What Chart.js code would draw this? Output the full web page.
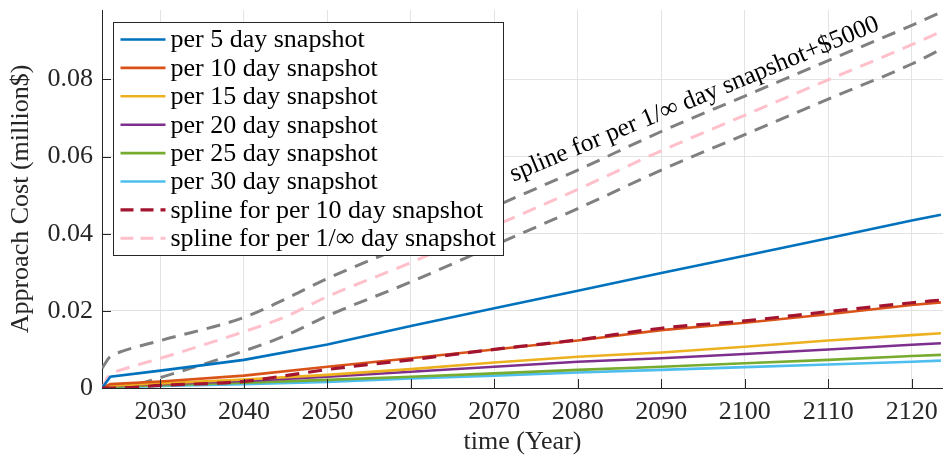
<!DOCTYPE html>
<html lang="en">
<head>
<meta charset="UTF-8">
<title>Approach Cost</title>
<script src="https://cdn.jsdelivr.net/npm/chart.js"></script>
<style>
  html, body { margin: 0; padding: 0; background: #fff; }
  .chart-box { width: 943px; height: 464px; position: relative; }
</style>
</head>
<body>
<div class="chart-box"><canvas id="costChart"></canvas></div>
<script>
const years = [2023, 2024, 2030, 2040, 2050, 2060, 2070, 2080, 2090, 2100, 2110, 2120, 2123.5];
const per5  = [0, 0.0029, 0.0045, 0.0073, 0.0113, 0.0161, 0.0207, 0.0252, 0.0298, 0.0343, 0.0388, 0.0434, 0.0449];
const per10 = [0, 0.0010, 0.0017, 0.0032, 0.0055, 0.0077, 0.0100, 0.0123, 0.0150, 0.0169, 0.0191, 0.0215, 0.0222];
const per15 = [0, 0.0006, 0.0012, 0.0022, 0.0034, 0.0049, 0.0066, 0.0081, 0.0092, 0.0107, 0.0123, 0.0137, 0.0142];
const per20 = [0, 0.0005, 0.0010, 0.0018, 0.0029, 0.0042, 0.0055, 0.0068, 0.0077, 0.0088, 0.0100, 0.0112, 0.0116];
const per25 = [0, 0.0003, 0.0007, 0.0014, 0.0021, 0.0029, 0.0038, 0.0047, 0.0055, 0.0064, 0.0073, 0.0083, 0.0086];
const per30 = [0, 0.0002, 0.0005, 0.0010, 0.0016, 0.0025, 0.0032, 0.0040, 0.0047, 0.0054, 0.0061, 0.0068, 0.0071];

// spline curves
const splineYears = [2023, 2024, 2025, 2030, 2040, 2045, 2050, 2060, 2070, 2080, 2090, 2100, 2110, 2120, 2123.5];
const spline10  = [0, 0, 0, 0.0007, 0.0017, 0.0032, 0.0048, 0.0073, 0.0100, 0.0125, 0.0155, 0.0174, 0.0198, 0.0221, 0.0228];
const splineInf = [0, 0.0037, 0.0045, 0.0077, 0.0146, 0.0185, 0.0237, 0.0325, 0.0420, 0.0515, 0.0615, 0.0707, 0.0799, 0.0890, 0.0924];
const bandUpper = [0.0051, 0.0082, 0.0092, 0.0123, 0.0183, 0.0231, 0.0284, 0.0375, 0.0470, 0.0565, 0.0665, 0.0757, 0.0849, 0.0940, 0.0974];
const bandLower = [-0.0049, -0.0013, -0.0005, 0.0027, 0.0096, 0.0136, 0.0187, 0.0275, 0.0370, 0.0465, 0.0565, 0.0657, 0.0749, 0.0840, 0.0878];

const xTicks = [2030, 2040, 2050, 2060, 2070, 2080, 2090, 2100, 2110, 2120];
const yTicks = [0, 0.02, 0.04, 0.06, 0.08];

const serif = "'Liberation Serif', 'DejaVu Serif', serif";
const ink = '#262626';

function pts(xs, ys) {
    return xs.map((x, i) => ({ x: x, y: ys[i] }));
}

function solid(label, color, ys) {
    return { label: label, data: pts(years, ys), borderColor: color, borderWidth: 2.6,
             tension: 0, inLegend: true };
}

function dashed(label, color, xs, ys, width, legend) {
    return { label: label, data: pts(xs, ys), borderColor: color, borderWidth: width,
             borderDash: [14, 9], cubicInterpolationMode: 'monotone', inLegend: legend };
}

const datasets = [
    solid('per 5 day snapshot', '#0072BD', per5),
    solid('per 10 day snapshot', '#D95319', per10),
    solid('per 15 day snapshot', '#EDB120', per15),
    solid('per 20 day snapshot', '#7E2F8E', per20),
    solid('per 25 day snapshot', '#77AC30', per25),
    solid('per 30 day snapshot', '#4DBEEE', per30),
    Object.assign(dashed('spline for per 10 day snapshot', '#A2142F', splineYears, spline10, 3.2, true), { order: -1 }),
    dashed('spline for per 1/\u221E day snapshot', '#FFC0CB', splineYears, splineInf, 3, true),
    dashed('upper band', '#808080', splineYears, bandUpper, 3, false),
    dashed('lower band', '#808080', splineYears, bandLower, 3, false)
];

// inward tick marks, matlab style
const tickMarks = {
    id: 'tickMarks',
    afterDraw(chart) {
        const { ctx, chartArea, scales } = chart;
        ctx.save();
        ctx.strokeStyle = ink;
        ctx.lineWidth = 1;
        ctx.beginPath();
        xTicks.forEach(v => {
            const px = Math.round(scales.x.getPixelForValue(v)) + 0.5;
            ctx.moveTo(px, chartArea.bottom);
            ctx.lineTo(px, chartArea.bottom - 9);
        });
        yTicks.forEach(v => {
            const py = Math.round(scales.y.getPixelForValue(v)) + 0.5;
            ctx.moveTo(chartArea.left, py);
            ctx.lineTo(chartArea.left + 9, py);
        });
        ctx.stroke();
        ctx.restore();
    }
};

// boxed legend in the upper left + rotated label along the band
const boxLegend = {
    id: 'boxLegend',
    afterDatasetsDraw(chart) {
        const { ctx, chartArea, scales } = chart;
        const x0 = Math.round(chartArea.left + 11) + 0.5;
        const y0 = Math.round(chartArea.top + 12) + 0.5;
        const w = 390, h = 233, rowH = 28.4;
        const items = chart.data.datasets.filter(d => d.inLegend);

        ctx.save();
        ctx.fillStyle = '#fff';
        ctx.fillRect(x0, y0, w, h);
        ctx.strokeStyle = ink;
        ctx.lineWidth = 1;
        ctx.strokeRect(x0, y0, w, h);

        ctx.font = '26px ' + serif;
        ctx.textBaseline = 'middle';
        ctx.fillStyle = '#000';
        items.forEach((d, i) => {
            const cy = y0 + 17 + i * rowH;
            ctx.strokeStyle = d.borderColor;
            ctx.lineWidth = d.borderWidth;
            ctx.setLineDash(d.borderDash ? [13, 7] : []);
            ctx.beginPath();
            ctx.moveTo(x0 + 7, cy);
            ctx.lineTo(x0 + 52, cy);
            ctx.stroke();
            ctx.setLineDash([]);
            ctx.fillText(d.label, x0 + 57, cy + 1);
        });

        // label for the +$5000 band
        const ax = scales.x.getPixelForValue(2072.3);
        const ay = scales.y.getPixelForValue(0.0535);
        ctx.translate(ax, ay);
        ctx.rotate(-22.5 * Math.PI / 180);
        ctx.textBaseline = 'alphabetic';
        ctx.font = '25.5px ' + serif;
        ctx.fillText('spline for per 1/\u221E day snapshot+$5000', 0, 0);
        ctx.restore();
    }
};

const ctx = document.getElementById('costChart').getContext('2d');
new Chart(ctx, {
    type: 'line',
    data: { datasets: datasets },
    plugins: [tickMarks, boxLegend],
    options: {
        responsive: true,
        maintainAspectRatio: false,
        animation: false,
        devicePixelRatio: 1,
        layout: { padding: { top: 10, right: 0, left: 0, bottom: 0 } },
        elements: {
            point: { radius: 0 },
            line: { tension: 0.4, borderCapStyle: 'butt' }
        },
        plugins: {
            legend: { display: false },
            tooltip: { enabled: false }
        },
        scales: {
            x: {
                type: 'linear',
                min: 2023,
                max: 2123.75,
                afterBuildTicks: s => { s.ticks = xTicks.map(v => ({ value: v })); },
                afterFit: s => { s.height = 76; s.paddingLeft = 0; s.paddingRight = 0; },
                grid: { color: '#e3e3e3', drawTicks: false },
                border: { color: ink, width: 1 },
                ticks: {
                    padding: 9,
                    color: ink,
                    font: { family: serif, size: 26 },
                    maxRotation: 0,
                    callback: v => String(v)
                },
                title: {
                    display: true,
                    text: 'time (Year)',
                    color: ink,
                    font: { family: serif, size: 26 },
                    padding: { top: 0, bottom: 6 }
                }
            },
            y: {
                type: 'linear',
                min: 0,
                max: 0.098,
                afterBuildTicks: s => { s.ticks = yTicks.map(v => ({ value: v })); },
                afterFit: s => { s.width = 102; s.paddingTop = 0; s.paddingBottom = 0; },
                grid: { color: '#e3e3e3', drawTicks: false },
                border: { color: ink, width: 1 },
                ticks: {
                    padding: 9,
                    color: ink,
                    font: { family: serif, size: 26 },
                    callback: v => (v === 0 ? '0' : v.toFixed(2))
                },
                title: {
                    display: true,
                    text: 'Approach Cost (million$)',
                    color: ink,
                    font: { family: serif, size: 26 },
                    padding: { top: 6, bottom: 0 }
                }
            }
        }
    }
});
</script>
</body>
</html>
